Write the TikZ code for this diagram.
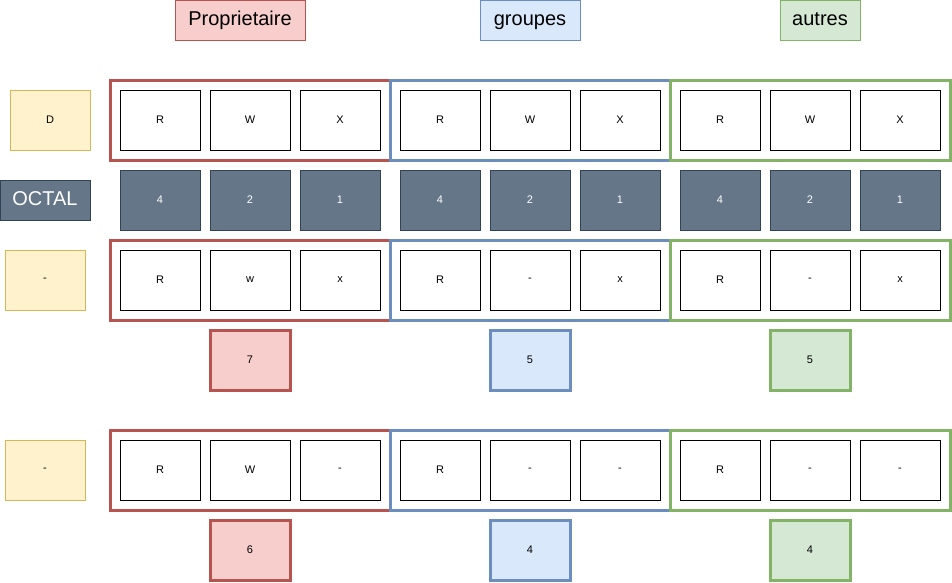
\documentclass[tikz,border=0pt]{standalone}
\usepackage{fontspec}
\setmainfont{Liberation Sans}
\definecolor{redfill}{HTML}{F8CECC}
\definecolor{redline}{HTML}{B85450}
\definecolor{bluefill}{HTML}{DAE8FC}
\definecolor{blueline}{HTML}{6C8EBF}
\definecolor{greenfill}{HTML}{D5E8D4}
\definecolor{greenline}{HTML}{82B366}
\definecolor{flagfill}{HTML}{FFF2CC}
\definecolor{flagline}{HTML}{D6B656}
\definecolor{octfill}{HTML}{647687}
\definecolor{octline}{HTML}{314354}
\tikzset{
  bit/.style={draw=black,fill=white,minimum width=80pt,minimum height=60pt,inner sep=0pt,font=\fontsize{11}{13}\selectfont},
  octbit/.style={bit,draw=octline,fill=octfill,text=white},
  flag/.style={bit,draw=flagline,fill=flagfill},
  frame/.style={draw=#1line,line width=3pt,minimum width=280pt,minimum height=80pt,inner sep=0pt},
  total/.style={bit,draw=#1line,fill=#1fill,line width=3pt},
  title/.style={draw=#1line,fill=#1fill,minimum height=40pt,inner sep=0pt,text height=14pt,text depth=4pt,font=\fontsize{20}{24}\selectfont}
}
\begin{document}
\begin{tikzpicture}[x=1pt,y=-1pt]
                    \useasboundingbox (0,0) rectangle (952,582);
                    \node[title=red,minimum width=130pt] (owner) at (240,20) {Proprietaire};
                    \node[title=blue,minimum width=100pt] (group) at (530,20) {groupes};
                    \node[title=green,minimum width=80pt] (other) at (820,20) {autres};
                    \node[flag] (dir) at (50,120) {D};
                    \node[title=oct,text=white,minimum width=90pt] (octal) at (45,200) {OCTAL};
                    \node[flag] (dirA) at (45,280) {-};
                    \node[flag] (dirB) at (45,470) {-};
                    \foreach \g/\c/\ra/\rb/\rc/\sa/\sb/\sc/\ta/\tb [count=\i from 0] in
                      {p/red/R/w/x/R/W/-/7/6, g/blue/R/-/x/R/-/-/5/4, a/green/R/-/x/R/-/-/5/4}{
                      \node[frame=\c] (\g-frame) at (250+280*\i,120) {};
                      \node[frame=\c] (\g-frameA) at (250+280*\i,280) {};
                      \node[frame=\c] (\g-frameB) at (250+280*\i,470) {};
                      \node[bit] (\g-r) at (160+280*\i,120) {R};
                      \node[bit] (\g-w) at (250+280*\i,120) {W};
                      \node[bit] (\g-x) at (340+280*\i,120) {X};
                      \node[octbit] (\g-4) at (160+280*\i,200) {4};
                      \node[octbit] (\g-2) at (250+280*\i,200) {2};
                      \node[octbit] (\g-1) at (340+280*\i,200) {1};
                      \node[bit] (\g-ra) at (160+280*\i,280) {\ra};
                      \node[bit] (\g-wa) at (250+280*\i,280) {\rb};
                      \node[bit] (\g-xa) at (340+280*\i,280) {\rc};
                      \node[total=\c] (\g-sumA) at (250+280*\i,360) {\ta};
                      \node[bit] (\g-rb) at (160+280*\i,470) {\sa};
                      \node[bit] (\g-wb) at (250+280*\i,470) {\sb};
                      \node[bit] (\g-xb) at (340+280*\i,470) {\sc};
                      \node[total=\c] (\g-sumB) at (250+280*\i,550) {\tb};
                    }
                \end{tikzpicture}
\end{document}
